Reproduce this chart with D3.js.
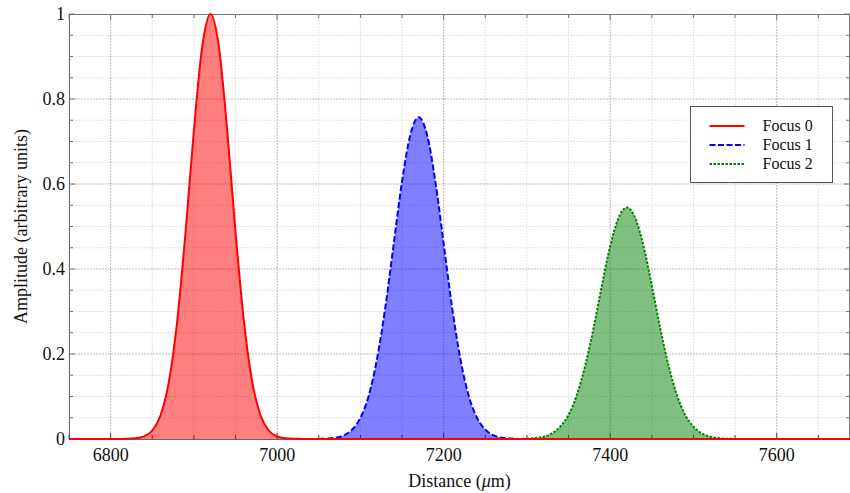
<!DOCTYPE html>
<html>
<head>
<meta charset="utf-8">
<script src="https://cdn.jsdelivr.net/npm/d3@7"></script>
<style>
body { margin: 0; background: #fff; }
svg { display: block; }
svg text { font-family: "Liberation Serif", "DejaVu Serif", serif; }
</style>
</head>
<body>
<svg id="chart"></svg>
<script>
// Focus 0 (red, solid)
var focus0X = [6750, 6810, 6820, 6830, 6840, 6850, 6860, 6870, 6880, 6890, 6900, 6910, 6920,
    6930, 6940, 6950, 6960, 6970, 6980, 6990, 7000, 7010, 7020, 7030, 7688];
var focus0Y = [0, 0, 0.0003, 0.0015, 0.006, 0.020, 0.056, 0.135, 0.278, 0.487, 0.726, 0.923, 1,
    0.923, 0.726, 0.487, 0.278, 0.135, 0.056, 0.020, 0.006, 0.0015, 0.0003, 0, 0];

// Focus 1 (blue, dashed)
var focus1X = [7040, 7050, 7060, 7070, 7080, 7090, 7100, 7110, 7120, 7130, 7140, 7150, 7160, 7170,
    7180, 7190, 7200, 7210, 7220, 7230, 7240, 7250, 7260, 7270, 7280, 7290, 7300];
var focus1Y = [0, 0.00025, 0.0009, 0.0029, 0.0084, 0.022, 0.050, 0.102, 0.189, 0.311, 0.459, 0.606, 0.716, 0.757,
    0.716, 0.606, 0.459, 0.311, 0.189, 0.102, 0.050, 0.022, 0.0084, 0.0029, 0.0009, 0.00025, 0];

// Focus 2 (green, dotted)
var focus2X = [7290, 7300, 7310, 7320, 7330, 7340, 7350, 7360, 7370, 7380, 7390, 7400, 7410, 7420,
    7430, 7440, 7450, 7460, 7470, 7480, 7490, 7500, 7510, 7520, 7530, 7540, 7550];
var focus2Y = [0.0002, 0.0007, 0.0021, 0.0055, 0.013, 0.029, 0.057, 0.104, 0.173, 0.261, 0.361, 0.454, 0.520, 0.545,
    0.520, 0.454, 0.361, 0.261, 0.173, 0.104, 0.057, 0.029, 0.013, 0.0055, 0.0021, 0.0007, 0.0002];

var xMajorTicks = [6800, 7000, 7200, 7400, 7600];
var xTickLabels = ["6800", "7000", "7200", "7400", "7600"];
var yMajorTicks = [0, 0.2, 0.4, 0.6, 0.8, 1];
var yTickLabels = ["0", "0.2", "0.4", "0.6", "0.8", "1"];
var legendLabels = ["Focus 0", "Focus 1", "Focus 2"];

var svgWidth = 850, svgHeight = 493;
var margin = { top: 14, right: 0, bottom: 54, left: 69 };
var width = svgWidth - margin.left - margin.right;
var height = svgHeight - margin.top - margin.bottom;

var svg = d3.select('#chart')
    .attr("width", svgWidth)
    .attr("height", svgHeight);

var g = svg.append("g")
    .attr("transform", "translate(" + margin.left + "," + margin.top + ")");

var x = d3.scaleLinear().domain([6750, 7688]).range([0, width]);
var y = d3.scaleLinear().domain([0, 1]).range([height, 0]);

var xMinor = d3.range(6750, 7688, 50).filter(function(v) { return xMajorTicks.indexOf(v) < 0; });
var yMinor = d3.range(0.05, 1, 0.05).filter(function(v) {
    return !yMajorTicks.some(function(t) { return Math.abs(t - v) < 1e-6; });
});

// grid
var grid = g.append("g");
grid.selectAll(".vminor").data(xMinor).enter().append("line")
    .attr("x1", function(d) { return x(d); }).attr("x2", function(d) { return x(d); })
    .attr("y1", 0).attr("y2", height)
    .attr("stroke", "#e2e2e2").attr("stroke-dasharray", "2,1");
grid.selectAll(".hminor").data(yMinor).enter().append("line")
    .attr("y1", function(d) { return y(d); }).attr("y2", function(d) { return y(d); })
    .attr("x1", 0).attr("x2", width)
    .attr("stroke", "#e2e2e2").attr("stroke-dasharray", "2,1");
grid.selectAll(".vmajor").data(xMajorTicks).enter().append("line")
    .attr("x1", function(d) { return x(d); }).attr("x2", function(d) { return x(d); })
    .attr("y1", 0).attr("y2", height)
    .attr("stroke", "#b8b8b8").attr("stroke-dasharray", "2,1");
grid.selectAll(".hmajor").data(yMajorTicks.slice(1, 5)).enter().append("line")
    .attr("y1", function(d) { return y(d); }).attr("y2", function(d) { return y(d); })
    .attr("x1", 0).attr("x2", width)
    .attr("stroke", "#b8b8b8").attr("stroke-dasharray", "2,1");

// axis lines from d3 axes, labels drawn as plain text from the scales
g.append("g")
    .attr("transform", "translate(0," + height + ")")
    .call(d3.axisBottom(x).tickValues([]).tickSizeOuter(0))
    .select(".domain").attr("stroke", "#666");
g.append("g")
    .call(d3.axisLeft(y).tickValues([]).tickSizeOuter(0))
    .select(".domain").attr("stroke", "#666");

var labels = g.append("g").attr("fill", "#111").style("font-size", "18px");
labels.selectAll(".xl").data(xMajorTicks).enter().append("text")
    .attr("x", function(d) { return x(d); })
    .attr("y", height + 22)
    .attr("text-anchor", "middle")
    .text(function(d, i) { return xTickLabels[i]; });
labels.selectAll(".yl").data(yMajorTicks).enter().append("text")
    .attr("x", -4)
    .attr("y", function(d) { return y(d) + 6; })
    .attr("text-anchor", "end")
    .text(function(d, i) { return yTickLabels[i]; });

// frame and inward ticks on all four sides
var allX = xMinor.concat(xMajorTicks);
var allY = yMinor.concat(yMajorTicks);
function tickLen(d, majors) { return majors.indexOf(d) >= 0 ? 6 : 4; }

var frame = g.append("g").attr("stroke", "#777").attr("stroke-width", 1);
frame.append("line").attr("x1", 0).attr("x2", width).attr("y1", 0.5).attr("y2", 0.5);
frame.append("line").attr("x1", width - 0.5).attr("x2", width - 0.5).attr("y1", 0).attr("y2", height);

frame.selectAll(".tt").data(allX).enter().append("line")
    .attr("x1", function(d) { return x(d); }).attr("x2", function(d) { return x(d); })
    .attr("y1", 0).attr("y2", function(d) { return tickLen(d, xMajorTicks); });
frame.selectAll(".bt").data(allX).enter().append("line")
    .attr("stroke", "#444")
    .attr("x1", function(d) { return x(d); }).attr("x2", function(d) { return x(d); })
    .attr("y1", height).attr("y2", function(d) { return height - tickLen(d, xMajorTicks); });
frame.selectAll(".lt").data(allY).enter().append("line")
    .attr("y1", function(d) { return y(d); }).attr("y2", function(d) { return y(d); })
    .attr("x1", 0).attr("x2", function(d) { return tickLen(d, yMajorTicks); });
frame.selectAll(".rt").data(allY).enter().append("line")
    .attr("y1", function(d) { return y(d); }).attr("y2", function(d) { return y(d); })
    .attr("x1", width).attr("x2", function(d) { return width - tickLen(d, yMajorTicks); });

// series
var series = [
    { xs: focus0X, ys: focus0Y, color: "#ff0000", dash: null },
    { xs: focus1X, ys: focus1Y, color: "#0000ff", dash: "6,2.5" },
    { xs: focus2X, ys: focus2Y, color: "#008000", dash: "2.5,1.5" }
];
series.forEach(function(s) {
    s.points = s.xs.map(function(v, i) { return { x: v, y: s.ys[i] }; });
});

var area = d3.area()
    .x(function(d) { return x(d.x); })
    .y0(y(0))
    .y1(function(d) { return y(d.y); })
    .curve(d3.curveMonotoneX);

var line = d3.line()
    .x(function(d) { return x(d.x); })
    .y(function(d) { return y(d.y); })
    .curve(d3.curveMonotoneX);

series.forEach(function(s) {
    g.append("path")
        .datum(s.points)
        .attr("fill", s.color)
        .attr("fill-opacity", 0.5)
        .attr("d", area);
});

// lines: blue and green first, red last so its flat tail sits on top of the baseline
[1, 2, 0].forEach(function(i) {
    var s = series[i];
    g.append("path")
        .datum(s.points)
        .attr("fill", "none")
        .attr("stroke", s.color)
        .attr("stroke-width", 2)
        .attr("stroke-linejoin", "round")
        .attr("stroke-dasharray", s.dash)
        .attr("d", line);
});

// axis titles
svg.append("text")
    .attr("x", margin.left + width / 2)
    .attr("y", 487)
    .attr("text-anchor", "middle")
    .style("font-size", "18px")
    .attr("fill", "#111")
    .html('Distance (<tspan font-style="italic">μ</tspan>m)');

svg.append("text")
    .attr("transform", "translate(27," + (margin.top + height / 2) + ") rotate(-90)")
    .attr("text-anchor", "middle")
    .style("font-size", "18px")
    .attr("fill", "#111")
    .text("Amplitude (arbitrary units)");

// legend
var legend = svg.append("g").attr("transform", "translate(690.5,106.5)");
legend.append("rect")
    .attr("width", 142).attr("height", 76)
    .attr("fill", "#fff")
    .attr("stroke", "#555");
legendLabels.forEach(function(lab, i) {
    var s = series[i];
    var ly = 19.5 + i * 19;
    legend.append("line")
        .attr("x1", 19).attr("x2", 54)
        .attr("y1", ly).attr("y2", ly)
        .attr("stroke", s.color)
        .attr("stroke-width", 2)
        .attr("stroke-dasharray", s.dash);
    legend.append("text")
        .attr("x", 72).attr("y", ly + 5)
        .style("font-size", "16px")
        .attr("fill", "#111")
        .text(lab);
});
</script>
</body>
</html>
